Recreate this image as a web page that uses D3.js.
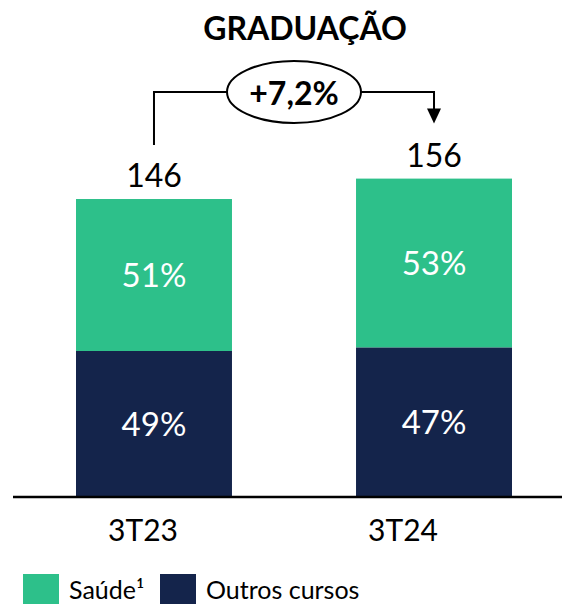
<!DOCTYPE html>
<html>
<head>
<meta charset="utf-8">
<script src="https://cdn.jsdelivr.net/npm/d3@7"></script>
<style>
  html, body { margin: 0; padding: 0; background: #fff; }
  svg { display: block; font-family: Lato, "Open Sans", sans-serif; }
</style>
</head>
<body>
<svg id="chart" width="562" height="604"></svg>
<script>
const categories = ["3T23", "3T24"];
const totals = [146, 156];
const saudeShare = [51, 53];
const outrosShare = [49, 47];
const seriesNames = ["Saúde¹", "Outros cursos"];
const growthLabel = "+7,2%";
const title = "GRADUAÇÃO";

const colors = { saude: "#2dc08a", outros: "#14244b" };

const svg = d3.select("#chart");
const W = 562, H = 604;
const baseY = 497;

const x = d3.scaleBand().domain(categories).range([76, 512]).paddingInner(0.443).paddingOuter(0);
const y = d3.scaleLinear().domain([0, 160]).range([baseY, baseY - 160 * 2.041]);
const xLabel = d3.scalePoint().domain(categories).range([143, 403]);

const rows = categories.map((c, i) => ({
  cat: c,
  total: totals[i],
  outros: totals[i] * outrosShare[i] / 100,
  saude: totals[i] * saudeShare[i] / 100,
  outrosPct: outrosShare[i],
  saudePct: saudeShare[i]
}));

const stack = d3.stack().keys(["outros", "saude"])(rows);

// bars
const g = svg.append("g");
stack.forEach(layer => {
  g.selectAll(null).data(layer).enter().append("rect")
    .attr("x", d => x(d.data.cat))
    .attr("width", x.bandwidth())
    .attr("y", d => y(d[1]))
    .attr("height", d => y(d[0]) - y(d[1]))
    .attr("fill", colors[layer.key]);
  g.selectAll(null).data(layer).enter().append("text")
    .attr("x", d => x(d.data.cat) + x.bandwidth() / 2)
    .attr("y", d => (y(d[0]) + y(d[1])) / 2)
    .attr("dy", "0.36em")
    .attr("text-anchor", "middle")
    .attr("fill", "#fff")
    .attr("font-size", 33)
    .text(d => d.data[layer.key + "Pct"] + "%");
});

// totals
g.selectAll(null).data(rows).enter().append("text")
  .attr("x", d => x(d.cat) + x.bandwidth() / 2)
  .attr("y", d => y(d.total) - 12)
  .attr("text-anchor", "middle")
  .attr("fill", "#000")
  .attr("font-size", 32)
  .text(d => d.total);

// axis baseline
svg.append("line")
  .attr("x1", 13).attr("x2", W)
  .attr("y1", baseY).attr("y2", baseY)
  .attr("stroke", "#000").attr("stroke-width", 2.5);

// category labels
svg.selectAll(null).data(categories).enter().append("text")
  .attr("x", d => xLabel(d))
  .attr("y", 541)
  .attr("text-anchor", "middle")
  .attr("font-size", 30)
  .attr("fill", "#000")
  .text(d => d);

// title
svg.append("text")
  .attr("x", 305).attr("y", 40)
  .attr("text-anchor", "middle")
  .attr("font-weight", "bold")
  .attr("font-size", 32)
  .attr("fill", "#000")
  .text(title);

// growth annotation
const x1 = x(categories[0]) + x.bandwidth() / 2;
const x2 = x(categories[1]) + x.bandwidth() / 2;
const lineY = 92;
const ecx = 294, erx = 67, ery = 31;
const ann = svg.append("g").attr("fill", "none").attr("stroke", "#000").attr("stroke-width", 2);
ann.append("path")
  .attr("d", `M${x1},${y(totals[0]) - 54} V${lineY} H${ecx - erx}`);
ann.append("path")
  .attr("d", `M${ecx + erx},${lineY} H${x2} V${y(totals[1]) - 68}`);
ann.append("ellipse")
  .attr("cx", ecx).attr("cy", lineY).attr("rx", erx).attr("ry", ery);
svg.append("path")
  .attr("d", `M${x2 - 7},${y(totals[1]) - 70} L${x2 + 7},${y(totals[1]) - 70} L${x2},${y(totals[1]) - 55} Z`)
  .attr("fill", "#000");
svg.append("text")
  .attr("x", ecx).attr("y", lineY + 1)
  .attr("dy", "0.36em")
  .attr("text-anchor", "middle")
  .attr("font-weight", "bold")
  .attr("font-size", 32)
  .attr("fill", "#000")
  .text(growthLabel);

// legend
const legend = svg.append("g");
const legendItems = [
  { name: seriesNames[0], color: colors.saude, x: 23 },
  { name: seriesNames[1], color: colors.outros, x: 160 }
];
legendItems.forEach(it => {
  legend.append("rect").attr("x", it.x).attr("y", 574).attr("width", 36).attr("height", 34).attr("fill", it.color);
  legend.append("text").attr("x", it.x + 46).attr("y", 599)
    .attr("font-size", 25).attr("fill", "#000").text(it.name);
});
</script>
</body>
</html>
